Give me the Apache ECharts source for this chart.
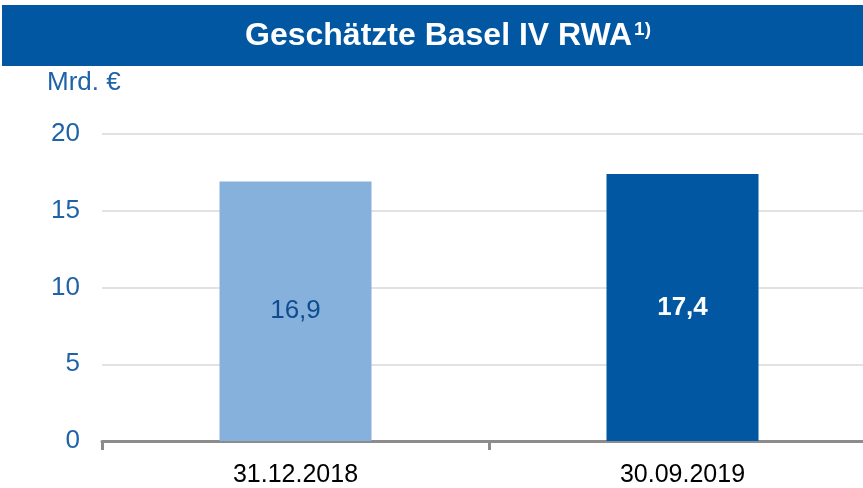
<!DOCTYPE html>
<html>
<head>
<meta charset="utf-8">
<script src="https://cdn.jsdelivr.net/npm/echarts@6/dist/echarts.min.js"></script>
<style>
  html, body { margin: 0; padding: 0; background: #fff; }
  #chart { width: 863px; height: 488px; }
</style>
</head>
<body>
<div id="chart"></div>
<script>
// Kategorien und Werte
const categories = ['31.12.2018', '30.09.2019']
const values = [16.9, 17.4]
const valueLabels = ['16,9', '17,4']
const barColors = ['#87B1DD', '#0157A1']

const FONT = 'Liberation Sans, Arial, sans-serif'
const chart = echarts.init(document.getElementById('chart'))

chart.setOption({
  animation: false,
  textStyle: { fontFamily: FONT },
  graphic: [
    {
      type: 'rect',
      left: 2,
      top: 5,
      shape: { width: 861, height: 61 },
      style: { fill: '#0157A1' },
      z: 0
    },
    {
      type: 'text',
      left: 47,
      top: 70,
      style: {
        text: 'Mrd. €',
        fill: '#1F62A8',
        font: '26px ' + FONT
      }
    }
  ],
  title: {
    text: '{t|Geschätzte Basel IV RWA}{s|1)}',
    left: 245,
    top: 20,
    padding: 0,
    textStyle: {
      rich: {
        t: {
          color: '#fff',
          fontSize: 32,
          lineHeight: 32,
          fontWeight: 'bold',
          fontFamily: FONT
        },
        s: {
          color: '#fff',
          fontSize: 19,
          lineHeight: 32,
          fontWeight: 'bold',
          verticalAlign: 'top',
          padding: [0, 0, 11, 2],
          fontFamily: FONT
        }
      }
    }
  },
  grid: {
    top: 134,
    bottom: 47,
    left: 102,
    width: 774,
    outerBoundsMode: 'none'
  },
  xAxis: {
    type: 'category',
    data: categories,
    axisLine: {
      lineStyle: { color: '#8C8C8C', width: 3 }
    },
    axisTick: {
      show: true,
      length: 9,
      lineStyle: { color: '#8C8C8C', width: 3 }
    },
    axisLabel: {
      color: '#000',
      fontSize: 25,
      margin: 22
    }
  },
  yAxis: {
    type: 'value',
    min: 0,
    max: 20,
    interval: 5,
    axisLine: { show: false },
    axisTick: { show: false },
    axisLabel: {
      color: '#1F62A8',
      fontSize: 26,
      margin: 22
    },
    splitLine: {
      lineStyle: { color: '#D9D9D9', width: 1.5 }
    }
  },
  series: [
    {
      type: 'bar',
      barWidth: 152,
      data: values.map((v, i) => ({
        value: v,
        itemStyle: { color: barColors[i] },
        label: {
          color: i === 0 ? '#0F4C8F' : '#fff',
          fontWeight: i === 0 ? 'normal' : 'bold'
        }
      })),
      label: {
        show: true,
        position: 'inside',
        fontSize: 26,
        formatter: p => valueLabels[p.dataIndex]
      }
    }
  ]
})
</script>
</body>
</html>
